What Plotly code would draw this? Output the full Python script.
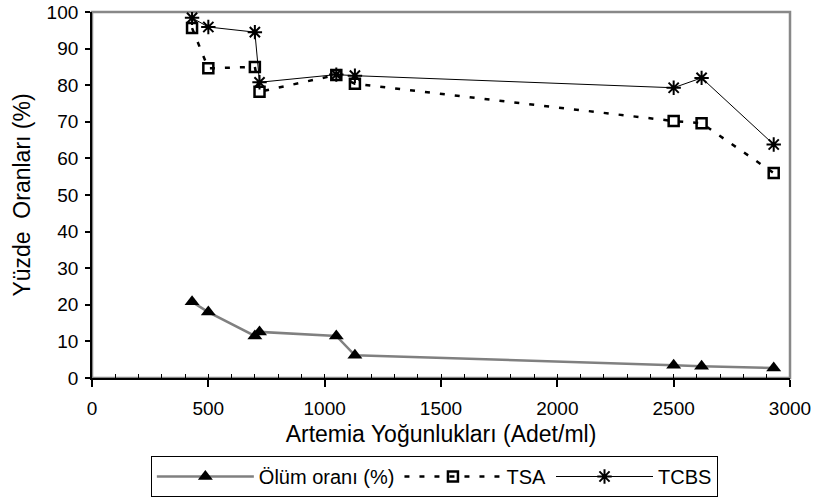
import plotly.graph_objects as go

x_vals = [430, 500, 700, 720, 1050, 1130, 2500, 2620, 2930]
olum = [20.8, 18.0, 11.5, 12.6, 11.5, 6.2, 3.5, 3.2, 2.7]
tsa = [95.6, 84.6, 85.0, 78.2, 82.8, 80.4, 70.2, 69.6, 56.0]
tcbs = [98.4, 95.9, 94.5, 80.8, 82.9, 82.6, 79.3, 82.0, 63.8]

x_ticks = [0, 500, 1000, 1500, 2000, 2500, 3000]
y_ticks = [0, 10, 20, 30, 40, 50, 60, 70, 80, 90, 100]

FONT = "Liberation Sans, Arial, sans-serif"

fig = go.Figure()
fig.add_trace(go.Scatter(
    x=x_vals, y=olum, name="Ölüm oranı (%)", mode="lines+markers",
    line=dict(color="#808080", width=2.5),
    marker=dict(symbol="triangle-up", size=13, color="black"),
))
fig.add_trace(go.Scatter(
    x=x_vals, y=tsa, name="TSA", mode="lines+markers",
    line=dict(color="black", width=2.5, dash="5px,10px"),
    marker=dict(symbol="square-open", size=10, color="black", line=dict(width=2.5, color="black")),
))
fig.add_trace(go.Scatter(
    x=x_vals, y=tcbs, name="TCBS", mode="lines+markers",
    line=dict(color="black", width=1),
    marker=dict(symbol="asterisk-open", size=12, color="black", line=dict(width=2, color="black")),
))
# invisible trace to drive the inside (minor) tick axis
fig.add_trace(go.Scatter(x=[0, 3000], y=[0, 0], xaxis="x2", mode="markers",
                         marker=dict(opacity=0), showlegend=False, hoverinfo="skip"))

# gray frame (top and right)
fig.add_shape(type="rect", xref="paper", yref="paper", x0=0, x1=1, y0=0, y1=1,
              line=dict(color="#888888", width=2.5), layer="below")

fig.update_layout(
    width=818, height=500,
    margin=dict(l=92, r=28, t=12, b=122, autoexpand=False),
    paper_bgcolor="white", plot_bgcolor="white",
    font=dict(family=FONT, size=19, color="black"),
    xaxis=dict(
        range=[0, 3000], tickvals=x_ticks, ticks="outside", ticklen=7, tickwidth=1.5,
        tickcolor="black", showline=True, linecolor="black", linewidth=1.8,
        showgrid=False, zeroline=False, automargin=False, ticklabelstandoff=5,
        title=dict(text="Artemia Yoğunlukları (Adet/ml)", font=dict(size=23), standoff=8),
    ),
    xaxis2=dict(
        range=[0, 3000], overlaying="x", side="bottom", dtick=100, tick0=0,
        ticks="inside", ticklen=4, tickwidth=1, tickcolor="black",
        showticklabels=False, showgrid=False, zeroline=False, showline=False,
    ),
    yaxis=dict(
        range=[0, 100], tickvals=y_ticks, ticks="outside", ticklen=5, tickwidth=1.5,
        tickcolor="black", showline=True, linecolor="black", linewidth=1.8,
        showgrid=False, zeroline=False, automargin=False, ticklabelstandoff=3,
        title=dict(text="Yüzde\u00a0 Oranları (%)", font=dict(size=23), standoff=10),
    ),
    legend=dict(
        orientation="h", x=0.531, xanchor="center", xref="container",
        y=0.088, yanchor="top", yref="container",
        bordercolor="black", borderwidth=1, font=dict(size=20),
        itemwidth=97, tracegroupgap=0,
    ),
    showlegend=True,
)

fig.write_html("out.html", config={"displayModeBar": False},
               post_script="document.body.style.margin='0px';")
